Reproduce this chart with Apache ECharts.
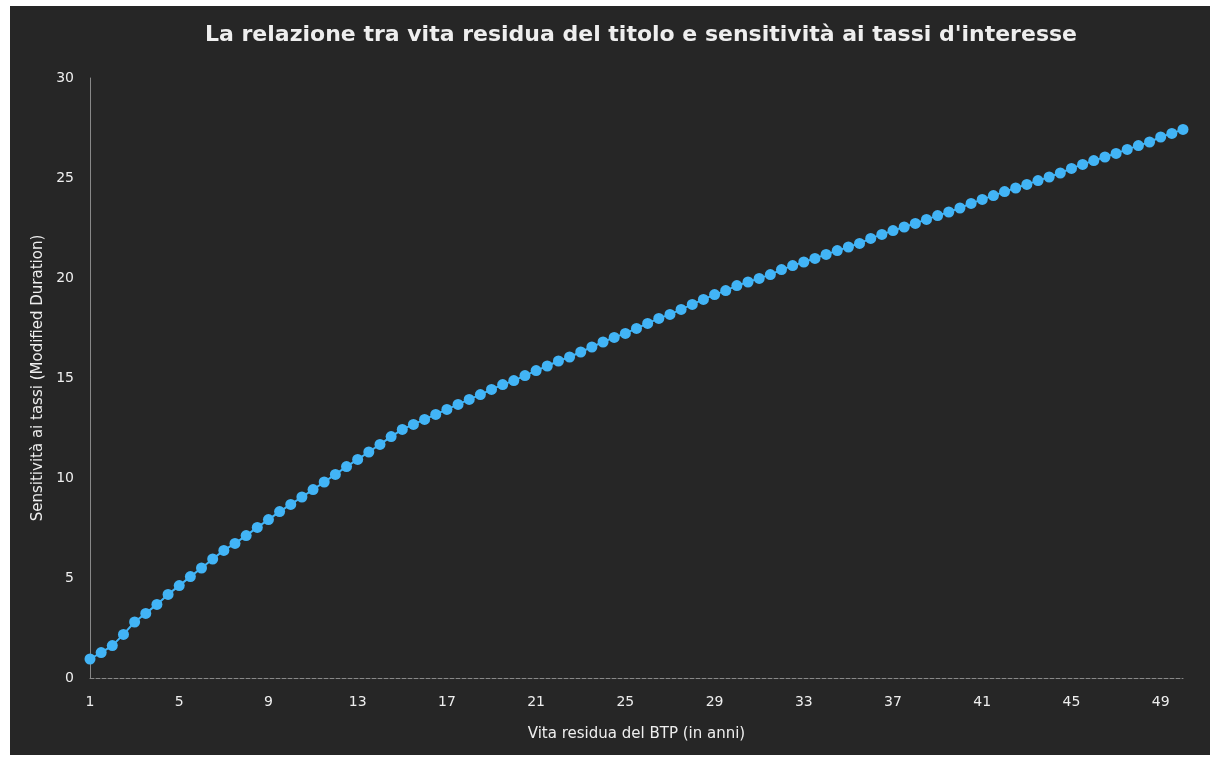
<!DOCTYPE html>
<html>
<head>
<meta charset="utf-8">
<script src="https://cdn.jsdelivr.net/npm/echarts@6/dist/echarts.min.js"></script>
<style>
  body { margin: 0; background: #ffffff; }
  #chart { position: absolute; left: 10px; top: 6px; width: 1200px; height: 749px; }
</style>
</head>
<body>
<div id="chart"></div>
<script>
// vita residua (anni), passo di mezzo anno
var anni = ['1', '1.5', '2', '2.5', '3', '3.5', '4', '4.5', '5', '5.5', '6', '6.5', '7', '7.5', '8', '8.5', '9', '9.5', '10', '10.5',
  '11', '11.5', '12', '12.5', '13', '13.5', '14', '14.5', '15', '15.5', '16', '16.5', '17', '17.5', '18', '18.5', '19', '19.5', '20', '20.5',
  '21', '21.5', '22', '22.5', '23', '23.5', '24', '24.5', '25', '25.5', '26', '26.5', '27', '27.5', '28', '28.5', '29', '29.5', '30', '30.5',
  '31', '31.5', '32', '32.5', '33', '33.5', '34', '34.5', '35', '35.5', '36', '36.5', '37', '37.5', '38', '38.5', '39', '39.5', '40', '40.5',
  '41', '41.5', '42', '42.5', '43', '43.5', '44', '44.5', '45', '45.5', '46', '46.5', '47', '47.5', '48', '48.5', '49', '49.5', '50']

// modified duration
var duration = [0.95, 1.27, 1.62, 2.18, 2.8, 3.23, 3.68, 4.18, 4.62, 5.07,
  5.5, 5.95, 6.38, 6.73, 7.12, 7.53, 7.92, 8.32, 8.68, 9.05,
  9.42, 9.8, 10.18, 10.57, 10.93, 11.3, 11.68, 12.07, 12.43, 12.68,
  12.93, 13.18, 13.43, 13.68, 13.93, 14.17, 14.43, 14.67, 14.87, 15.12,
  15.37, 15.6, 15.85, 16.05, 16.3, 16.55, 16.8, 17.03, 17.23, 17.48,
  17.73, 17.98, 18.18, 18.43, 18.68, 18.93, 19.17, 19.37, 19.62, 19.8,
  19.98, 20.17, 20.42, 20.62, 20.8, 20.98, 21.18, 21.37, 21.55, 21.73,
  21.98, 22.18, 22.37, 22.55, 22.73, 22.93, 23.12, 23.3, 23.5, 23.73,
  23.93, 24.12, 24.32, 24.5, 24.68, 24.87, 25.05, 25.25, 25.48, 25.68,
  25.87, 26.05, 26.23, 26.43, 26.62, 26.8, 27.05, 27.23, 27.43]

var yTicks = { min: 0, max: 30, interval: 5 }

var myChart = echarts.init(document.getElementById('chart'))
myChart.setOption({
  backgroundColor: '#262626',
  animation: false,
  textStyle: { fontFamily: 'DejaVu Sans' },
  title: {
    text: "La relazione tra vita residua del titolo e sensitività ai tassi d'interesse",
    left: 626,
    textAlign: 'center',
    top: 13,
    textStyle: { color: '#eeeeee', fontSize: 22, fontWeight: 'bold', fontFamily: 'DejaVu Sans' }
  },
  grid: { left: 80, right: 27, top: 72, bottom: 77, containLabel: false },
  xAxis: {
    type: 'category',
    data: anni,
    boundaryGap: false,
    name: 'Vita residua del BTP (in anni)',
    nameLocation: 'middle',
    nameGap: 49,
    nameTextStyle: { color: '#eeeeee', fontSize: 15, fontFamily: 'DejaVu Sans' },
    axisLine: { lineStyle: { color: '#888888', type: 'dashed', width: 1 } },
    axisTick: { show: false },
    axisLabel: { color: '#eeeeee', fontSize: 14, interval: 7, margin: 17, fontFamily: 'DejaVu Sans' },
    splitLine: { show: false }
  },
  yAxis: {
    type: 'value',
    min: yTicks.min,
    max: yTicks.max,
    interval: yTicks.interval,
    name: 'Sensitività ai tassi (Modified Duration)',
    nameLocation: 'middle',
    nameGap: 42,
    nameTextStyle: { color: '#eeeeee', fontSize: 15, fontFamily: 'DejaVu Sans' },
    axisLine: { show: true, lineStyle: { color: '#888888', width: 1 } },
    axisTick: { show: false },
    axisLabel: { color: '#eeeeee', fontSize: 14, margin: 16, fontFamily: 'DejaVu Sans' },
    splitLine: { show: false }
  },
  series: [
    {
      type: 'line',
      data: duration,
      symbol: 'circle',
      symbolSize: 11,
      showAllSymbol: true,
      itemStyle: { color: '#42b4f6' },
      lineStyle: { color: '#42b4f6', width: 2 }
    }
  ]
})
</script>
</body>
</html>
